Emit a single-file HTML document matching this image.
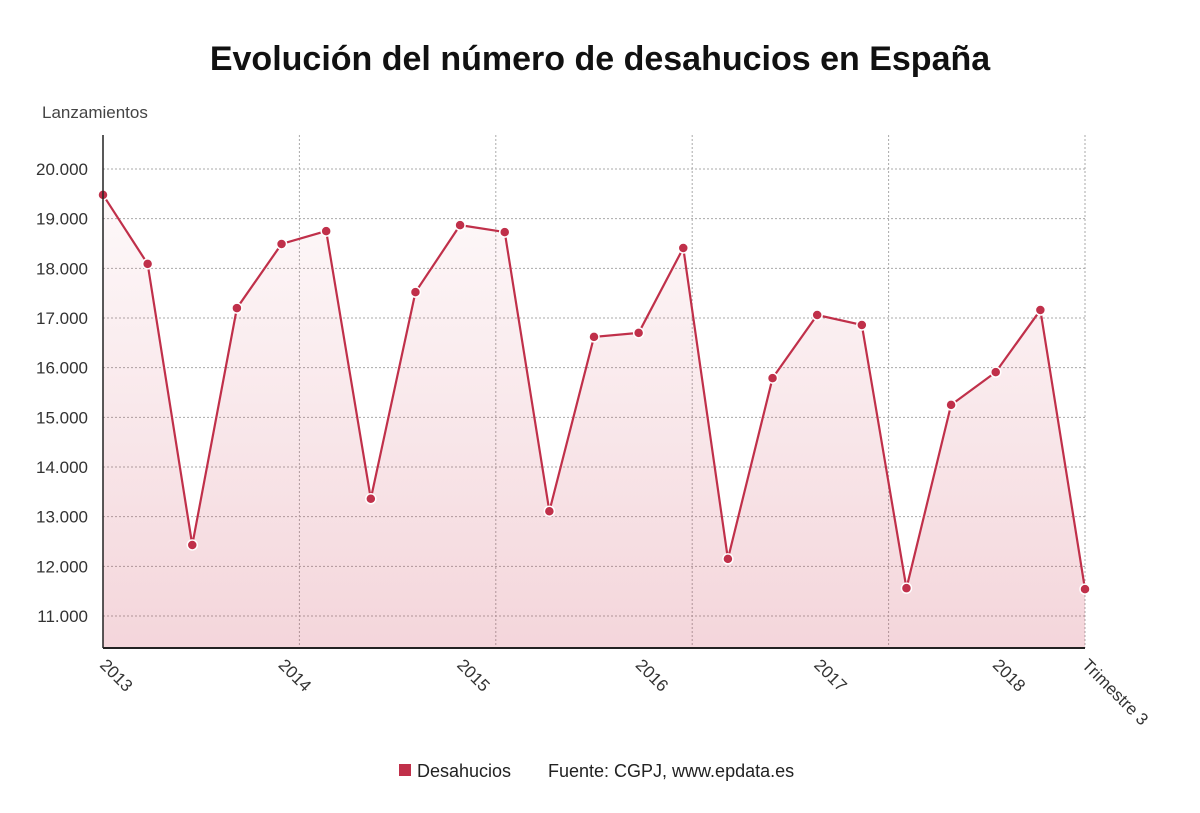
<!DOCTYPE html>
<html><head><meta charset="utf-8"><style>
body{margin:0;background:#fff;font-family:"Liberation Sans","DejaVu Sans",sans-serif}
</style></head><body>
<svg width="1200" height="808" xmlns="http://www.w3.org/2000/svg">
<defs><linearGradient id="g" x1="0" y1="0" x2="0" y2="1"><stop offset="0" stop-color="#c8304a" stop-opacity="0.03"/><stop offset="1" stop-color="#c8304a" stop-opacity="0.2"/></linearGradient></defs>
<text x="600" y="70" text-anchor="middle" font-size="34" font-weight="bold" fill="#111">Evolución del número de desahucios en España</text>
<text x="42" y="118" font-size="17" fill="#444">Lanzamientos</text>
<g id="grid"></g><g id="marks"></g><g id="axes"></g>
<g>
<rect x="399" y="764" width="12" height="12" fill="#c0304a"/>
<text x="417" y="777" font-size="18" fill="#222">Desahucios</text>
<text x="548" y="777" font-size="18" fill="#222">Fuente: CGPJ, www.epdata.es</text>
</g>
</svg>
<script>
const values=[19480,18090,12430,17200,18490,18750,13360,17520,18870,18730,13110,16620,16700,18410,12150,15790,17060,16860,11560,15250,15910,17160,11540];
const yTicks=[11000,12000,13000,14000,15000,16000,17000,18000,19000,20000];
const xLabels=["2013","2014","2015","2016","2017","2018","Trimestre 3"];
const xLabelIdx=[0,4,8,12,16,20,22];
const NS="http://www.w3.org/2000/svg";
const L=103,R=1085,T=135,B=648;
const x=i=>L+(R-L)*i/(values.length-1);
const y=v=>169+(20000-v)*(616-169)/9000;
function mk(t,a,p){const e=document.createElementNS(NS,t);for(const k in a)e.setAttribute(k,a[k]);p.appendChild(e);return e;}
const grid=document.getElementById('grid'),marks=document.getElementById('marks'),axes=document.getElementById('axes');
yTicks.forEach(v=>{
 const l=mk('line',{x1:L,x2:R,y1:y(v),y2:y(v),stroke:'#aaa','stroke-dasharray':'2,2'},grid);
 
 
 const t=mk('text',{x:88,y:y(v)+6,'text-anchor':'end','font-size':17,fill:'#333'},axes);
 t.textContent=v.toLocaleString('de-DE');
 
 
});
for(let k=1;k<=5;k++){const gx=L+(R-L)*k/5;
 const l=mk('line',{x1:gx,x2:gx,y1:T,y2:B,stroke:'#aaa','stroke-dasharray':'2,2'},grid);
 
 }
let d='M'+x(0)+','+B;values.forEach((v,i)=>d+=' L'+x(i)+','+y(v));d+=' L'+x(values.length-1)+','+B+' Z';
const area=mk('path',{d:d,fill:'url(#g)'},marks);


const line=mk('polyline',{points:values.map((v,i)=>x(i)+','+y(v)).join(' '),fill:'none',stroke:'#c0304a','stroke-width':2.2},marks);


values.forEach((v,i)=>{const c=mk('circle',{cx:x(i),cy:y(v),r:5,fill:'#c0304a',stroke:'#fff','stroke-width':1.5},marks);
 
 });
const ya=mk('line',{x1:L,x2:L,y1:T,y2:B,stroke:'#222','stroke-width':1.5},axes);


const xa=mk('line',{x1:L,x2:R,y1:B,y2:B,stroke:'#222','stroke-width':2},axes);


xLabels.forEach((s,k)=>{const px=x(xLabelIdx[k]);
 const t=mk('text',{x:px-4,y:B+18,'font-size':17,fill:'#333',transform:`rotate(45 ${px-4} ${B+18})`},axes);
 t.textContent=s;
 
 });
</script>
</body></html>
